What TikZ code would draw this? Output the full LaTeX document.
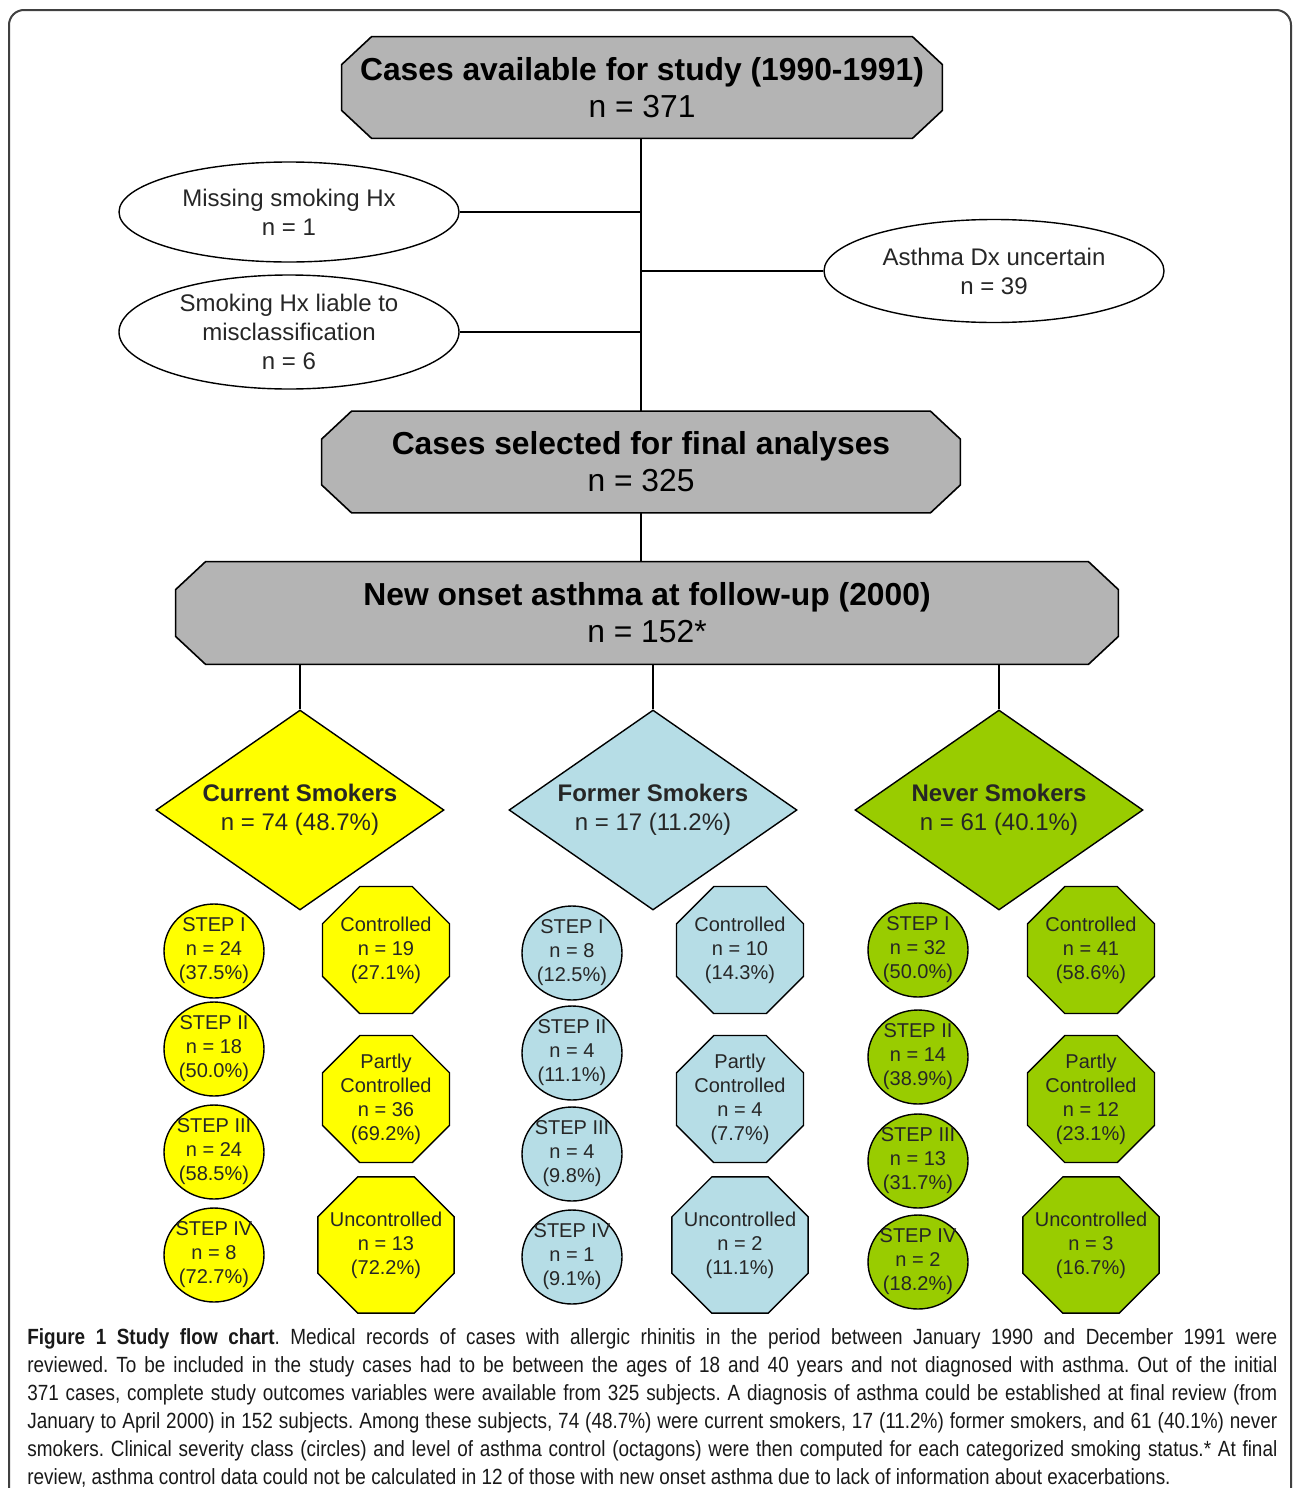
\documentclass[tikz,border=0pt]{standalone}
\usepackage{fontspec}
\setmainfont{Liberation Sans}
\newfontfamily\capfont[FakeStretch=0.86]{Liberation Sans}
\usetikzlibrary{shapes.geometric,backgrounds}
\definecolor{boxgray}{RGB}{180,180,180}
\definecolor{curyellow}{RGB}{255,255,0}
\definecolor{formerblue}{RGB}{182,221,230}
\definecolor{nevergreen}{RGB}{153,204,0}
\newcommand\chamferbox[1]{%
  \filldraw[fill=boxgray,draw=black,line width=0.8pt]
    ([xshift=15pt]#1.north west) -- ([xshift=-15pt]#1.north east) -- ([yshift=-14pt]#1.north east)
    -- ([yshift=14pt]#1.south east) -- ([xshift=-15pt]#1.south east) -- ([xshift=15pt]#1.south west)
    -- ([yshift=14pt]#1.south west) -- ([yshift=-14pt]#1.north west) -- cycle;}
\begin{document}
\begin{tikzpicture}[x=0.5pt,y=-0.5pt,
  every node/.style={inner sep=0pt,text=black!85},
  stage/.style={rectangle,align=center,text=black,font=\fontsize{15.9}{18.5}\selectfont},
  excl/.style={ellipse,draw,line width=0.7pt,inner ysep=-6pt,minimum width=170pt,align=center,
    font=\fontsize{12}{14.5}\selectfont},
  group/.style={diamond,shape aspect=1.44,draw,line width=0.7pt,minimum width=144pt,minimum height=100pt,
    align=center,font=\fontsize{12}{14.5}\selectfont},
  sev/.style={ellipse,draw,line width=0.7pt,inner sep=-4pt,minimum width=50pt,minimum height=47pt,
    align=center,font=\fontsize{10}{12}\selectfont},
  ctrl/.style={regular polygon,regular polygon sides=8,draw,line width=0.7pt,inner sep=-4pt,
    minimum size=68.7pt,align=center,font=\fontsize{10}{12}\selectfont},
  link/.style={line width=0.9pt}]
\useasboundingbox (0,0) rectangle (1293,1488);
\draw[line width=1pt,black!75,rounded corners=7.5pt] (9,1500) -- (9,10) -- (1291,10) -- (1291,1500);

\node[stage,minimum width=300pt,minimum height=50.5pt] (start) at (642,87.5) {\textbf{Cases available for study (1990-1991)}\\n = 371};
\node[excl,minimum height=50pt] (miss) at (289,212) {Missing smoking Hx\\n = 1};
\node[excl,minimum height=57pt] (miscl) at (289,332) {Smoking Hx liable to\\misclassification\\n = 6};
\node[excl,minimum height=51.5pt] (dxunc) at (994,271) {Asthma Dx uncertain\\n = 39};
\node[stage,minimum width=319pt,minimum height=50.5pt] (sel) at (641,462) {\textbf{Cases selected for final analyses}\\n = 325};
\node[stage,minimum width=471pt,minimum height=51pt] (onset) at (647,613) {\textbf{New onset asthma at follow-up (2000)}\\n = 152*};
\begin{scope}[on background layer]
\chamferbox{start}
\chamferbox{sel}
\chamferbox{onset}
\end{scope}

\node[group,fill=curyellow] (cur) at (300,810) {\textbf{Current Smokers}\\n = 74 (48.7\%)};
\node[group,fill=formerblue] (form) at (653,810) {\textbf{Former Smokers}\\n = 17 (11.2\%)};
\node[group,fill=nevergreen] (nev) at (999,810) {\textbf{Never Smokers}\\n = 61 (40.1\%)};

\node[sev,fill=curyellow] (cur1) at (214,951) {STEP I\\n = 24\\(37.5\%)};
\node[sev,fill=curyellow] (cur2) at (214,1049) {STEP II\\n = 18\\(50.0\%)};
\node[sev,fill=curyellow] (cur3) at (214,1152) {STEP III\\n = 24\\(58.5\%)};
\node[sev,fill=curyellow] (cur4) at (214,1255) {STEP IV\\n = 8\\(72.7\%)};
\node[ctrl,fill=curyellow] (curc) at (386,950) {Controlled\\n = 19\\(27.1\%)};
\node[ctrl,fill=curyellow] (curp) at (386,1099) {Partly\\Controlled\\n = 36\\(69.2\%)};
\node[ctrl,fill=curyellow] (curu) at (386,1245) {Uncontrolled\\n = 13\\(72.2\%)};

\node[sev,fill=formerblue] (form1) at (572,953) {STEP I\\n = 8\\(12.5\%)};
\node[sev,fill=formerblue] (form2) at (572,1053) {STEP II\\n = 4\\(11.1\%)};
\node[sev,fill=formerblue] (form3) at (572,1154) {STEP III\\n = 4\\(9.8\%)};
\node[sev,fill=formerblue] (form4) at (572,1257) {STEP IV\\n = 1\\(9.1\%)};
\node[ctrl,fill=formerblue] (formc) at (740,950) {Controlled\\n = 10\\(14.3\%)};
\node[ctrl,fill=formerblue] (formp) at (740,1099) {Partly\\Controlled\\n = 4\\(7.7\%)};
\node[ctrl,fill=formerblue] (formu) at (740,1245) {Uncontrolled\\n = 2\\(11.1\%)};

\node[sev,fill=nevergreen] (nev1) at (918,950) {STEP I\\n = 32\\(50.0\%)};
\node[sev,fill=nevergreen] (nev2) at (918,1057) {STEP II\\n = 14\\(38.9\%)};
\node[sev,fill=nevergreen] (nev3) at (918,1161) {STEP III\\n = 13\\(31.7\%)};
\node[sev,fill=nevergreen] (nev4) at (918,1262) {STEP IV\\n = 2\\(18.2\%)};
\node[ctrl,fill=nevergreen] (nevc) at (1091,950) {Controlled\\n = 41\\(58.6\%)};
\node[ctrl,fill=nevergreen] (nevp) at (1091,1099) {Partly\\Controlled\\n = 12\\(23.1\%)};
\node[ctrl,fill=nevergreen] (nevu) at (1091,1245) {Uncontrolled\\n = 3\\(16.7\%)};

\draw[link] (start.south -| sel.north) -- (sel.north);
\draw[link] (miss.east) -- (miss.east -| sel.north);
\draw[link] (miscl.east) -- (miscl.east -| sel.north);
\draw[link] (dxunc.west) -- (dxunc.west -| sel.north);
\draw[link] (sel.south) -- (sel.south |- onset.north);
\draw[link] (onset.south -| cur.north) -- (cur.north);
\draw[link] (onset.south -| form.north) -- (form.north);
\draw[link] (onset.south -| nev.north) -- (nev.north);

\node[anchor=north west,text width=625pt,align=justify,text=black!90,
  font=\capfont\fontsize{11}{14}\selectfont\frenchspacing] (caption) at (27,1328) {%
\textbf{Figure 1 Study flow chart}. Medical records of cases with allergic rhinitis in the period between January 1990 and December 1991 were\linebreak
reviewed. To be included in the study cases had to be between the ages of 18 and 40 years and not diagnosed with asthma. Out of the initial\linebreak
371 cases, complete study outcomes variables were available from 325 subjects. A diagnosis of asthma could be established at final review (from\linebreak
January to April 2000) in 152 subjects. Among these subjects, 74 (48.7\%) were current smokers, 17 (11.2\%) former smokers, and 61 (40.1\%) never\linebreak
smokers. Clinical severity class (circles) and level of asthma control (octagons) were then computed for each categorized smoking status.* At final\linebreak
review, asthma control data could not be calculated in 12 of those with new onset asthma due to lack of information about exacerbations.};
\end{tikzpicture}
\end{document}
